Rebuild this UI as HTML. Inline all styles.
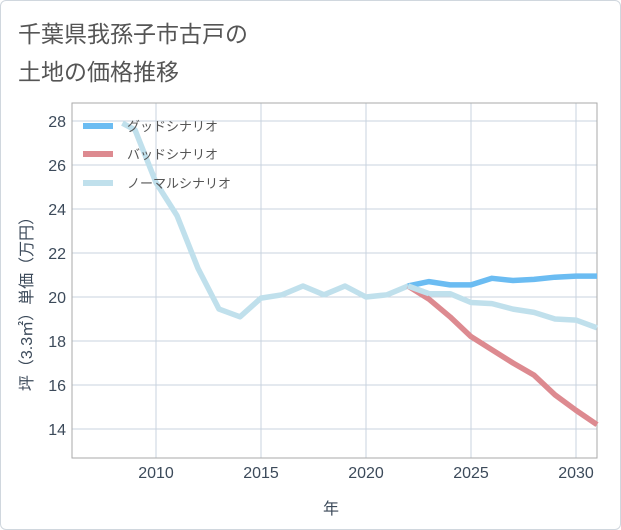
<!DOCTYPE html>
<html><head><meta charset="utf-8"><style>
body{margin:0;background:#fff;}
#wrap{position:relative;width:619px;height:528px;border:1px solid #d0d7de;border-radius:6px;overflow:hidden;background:#fff;font-family:"Liberation Sans","Noto Sans CJK JP",sans-serif;}
#title{position:absolute;left:17px;top:14px;font-size:23px;line-height:38px;color:#555;}
</style></head><body>
<div id="wrap">
<div id="title">千葉県我孫子市古戸の<br>土地の価格推移</div>
<svg id="chart" width="621" height="530" style="position:absolute;left:-1px;top:-1px"></svg>
</div>
<script>
const xTicks=[2010,2015,2020,2025,2030];
const yTicks=[14,16,18,20,22,24,26,28];
const normalYears=[2008.4,2009,2010,2011,2012,2013,2014,2015,2016,2017,2018,2019,2020,2021,2022,2023,2024,2025,2026,2027,2028,2029,2030,2031];
const normalVals=[27.9,27.6,25.2,23.7,21.3,19.45,19.1,19.95,20.1,20.5,20.1,20.5,20.0,20.1,20.5,20.15,20.15,19.75,19.7,19.45,19.3,19.0,18.95,18.6];
const futureYears=[2022,2023,2024,2025,2026,2027,2028,2029,2030,2031];
const goodVals=[20.5,20.7,20.55,20.55,20.85,20.75,20.8,20.9,20.95,20.95];
const badVals=[20.5,19.9,19.1,18.2,17.6,17.0,16.45,15.55,14.85,14.2];
const NS="http://www.w3.org/2000/svg";
const svg=document.getElementById('chart');
const L=72,R=597,T=103,B=458;
const X=v=>L+(v-2006)*21;
const Y=v=>121+(28-v)*22;
function mk(t,a,p){const e=document.createElementNS(NS,t);for(const k in a)e.setAttribute(k,a[k]);(p||svg).appendChild(e);return e;}
for(const t of xTicks){
 const g=mk('line',{x1:X(t),x2:X(t),y1:T,y2:B,stroke:'#c8d3df','stroke-width':1});
 
 
 const tx=mk('text',{x:X(t),y:478,'text-anchor':'middle','font-size':16,fill:'#3c4a5a'});
 tx.textContent=t;
 
 
}
for(const t of yTicks){
 const g=mk('line',{x1:L,x2:R,y1:Y(t),y2:Y(t),stroke:'#c8d3df','stroke-width':1});
 
 
 const tx=mk('text',{x:66,y:Y(t)+6,'text-anchor':'end','font-size':16,fill:'#3c4a5a'});
 tx.textContent=t;
 
 
}
const frame=mk('rect',{x:L,y:T,width:R-L,height:B-T,fill:'none',stroke:'#aaa','stroke-width':1});


function line(xs,vs,color,name){
 const p=mk('polyline',{points:xs.map((x,i)=>X(x)+','+Y(vs[i])).join(' '),fill:'none',stroke:color,'stroke-width':5.5,'stroke-linejoin':'round'});
 
 
}
line(normalYears,normalVals,'#c0e0ec','normal-scenario-line');
line(futureYears,badVals,'#dd8a90','bad-scenario-line');
line(futureYears,goodVals,'#6bbcf2','good-scenario-line');
line(futureYears.slice(0,2),normalVals.slice(14,16),'#c0e0ec','normal-scenario-overlap');
const leg=[['グッドシナリオ','#6bbcf2',126],['バッドシナリオ','#dd8a90',154],['ノーマルシナリオ','#c0e0ec',183]];
for(const [txt,c,y] of leg){
 const r=mk('rect',{x:83,y:y-3,width:30,height:6,fill:c});
 
 
 const t=mk('text',{x:127,y:y+5,'font-size':13,fill:'#555'});
 t.textContent=txt;
 
 
}
const xl=mk('text',{x:331,y:514,'text-anchor':'middle','font-size':16,fill:'#3c4a5a'});
xl.textContent='年';


const yl=mk('text',{x:0,y:0,'text-anchor':'middle','font-size':16,fill:'#3c4a5a',transform:'translate(32,300) rotate(-90)'});
yl.textContent='坪（3.3㎡）単価（万円）';


</script>
</body></html>
